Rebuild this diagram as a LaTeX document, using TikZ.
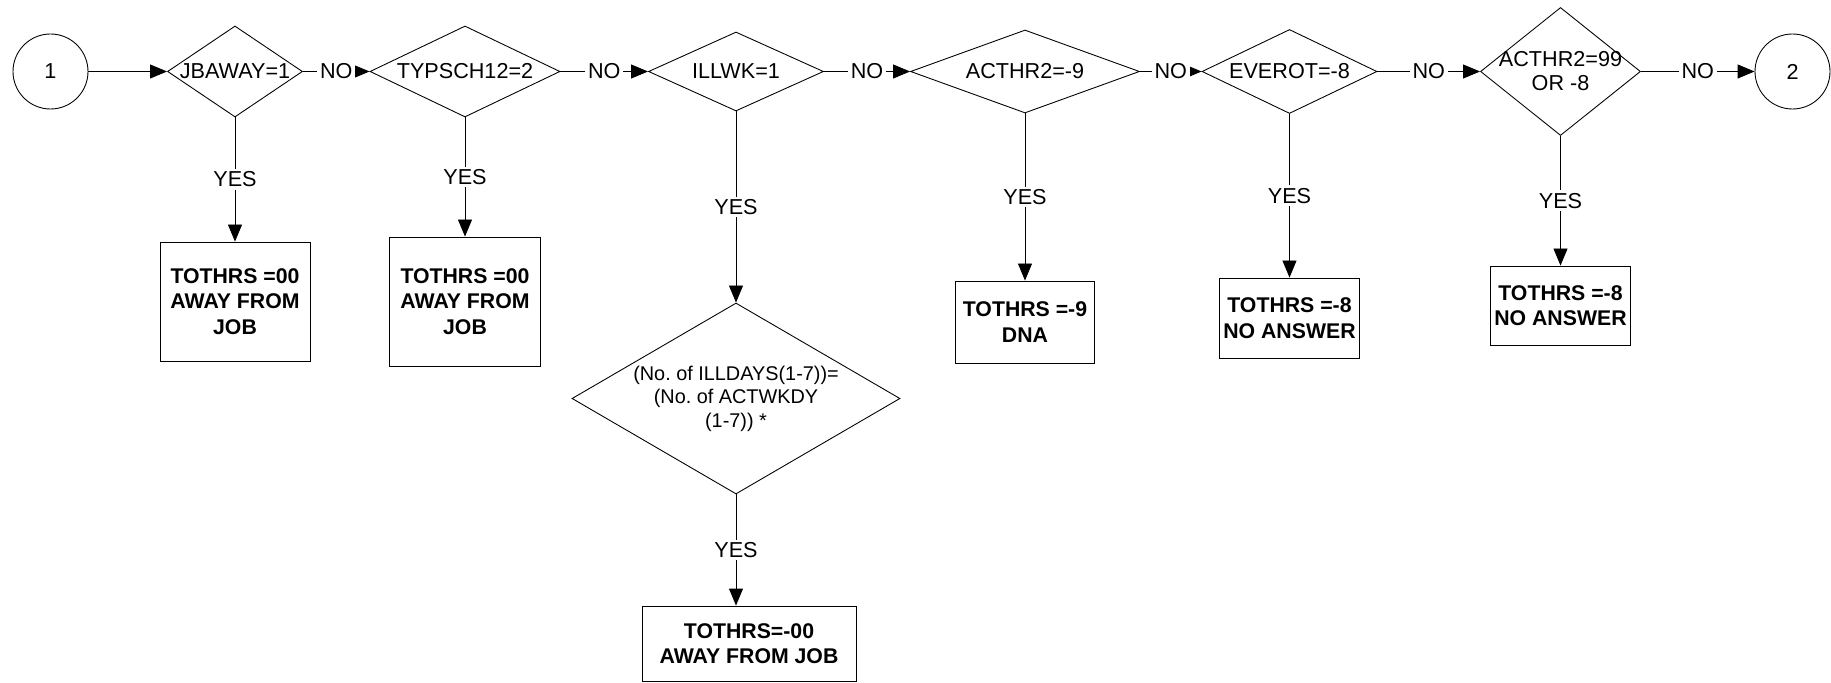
\documentclass[tikz,border=0pt]{standalone}
\usepackage{fontspec}
\setmainfont{Liberation Sans}
\usetikzlibrary{arrows.meta, positioning, shapes.geometric}
\frenchspacing

\begin{document}
\begin{tikzpicture}[
    >={Triangle[length=3.4mm, width=2.8mm]},
    line width=0.5pt,
    every node/.style={font=\fontsize{12.3}{14}\selectfont},
    decision/.style={diamond, draw, inner sep=0pt},
    result/.style={draw, rectangle, align=center, inner sep=2pt, font=\fontsize{12.1}{14.5}\selectfont\bfseries},
    term/.style={draw, circle, minimum size=1.5cm, inner sep=0pt},
    lbl/.style={fill=white, inner sep=1.5pt},
]
    \useasboundingbox (0,0) rectangle (36.62,-13.66);

    % Connectors in and out
    \node[term] (c1) at (1.01,-1.43) {1};
    \node[term] (c2) at (35.85,-1.43) {2};

    % Checks along the top row
    \node[decision, minimum width=2.70cm, minimum height=1.82cm, label={center:JBAWAY=1}] (jbaway) at (4.70,-1.43) {};
    \node[decision, minimum width=3.80cm, minimum height=1.82cm, label={center:TYPSCH12=2}] (typsch) at (9.30,-1.43) {};
    \node[decision, minimum width=3.50cm, minimum height=1.58cm, label={center:ILLWK=1}] (illwk) at (14.72,-1.43) {};
    \node[decision, minimum width=4.58cm, minimum height=1.66cm, label={center:ACTHR2=-9}] (acthra) at (20.50,-1.43) {};
    \node[decision, minimum width=3.50cm, minimum height=1.68cm, label={center:EVEROT=-8}] (everot) at (25.79,-1.43) {};
    \node[decision, minimum width=3.20cm, minimum height=2.56cm, label={[align=center, font=\fontsize{12.3}{13.6}\selectfont]center:{ACTHR2=99\\OR -8}}] (acthrb) at (31.21,-1.43) {};

    % Ill days check
    \node[decision, minimum width=6.56cm, minimum height=3.82cm, label={[align=center, font=\fontsize{11.3}{13.3}\selectfont]center:{(No. of ILLDAYS(1-7))=\\(No. of ACTWKDY\\(1-7)) *}}] (illdays) at (14.72,-7.97) {};

    % Outcomes
    \node[result, minimum width=3.00cm, minimum height=2.38cm] (box1) at (4.70,-6.03) {TOTHRS =00\\AWAY FROM\\JOB};
    \node[result, minimum width=3.02cm, minimum height=2.58cm] (box2) at (9.30,-6.03) {TOTHRS =00\\AWAY FROM\\JOB};
    \node[result, minimum width=4.28cm, minimum height=1.50cm] (box3) at (14.98,-12.87) {TOTHRS=-00\\AWAY FROM JOB};
    \node[result, minimum width=2.79cm, minimum height=1.64cm] (box4) at (20.50,-6.44) {TOTHRS =-9\\DNA};
    \node[result, minimum width=2.78cm, minimum height=1.60cm] (box5) at (25.79,-6.36) {TOTHRS =-8\\NO ANSWER};
    \node[result, minimum width=2.80cm, minimum height=1.58cm] (box6) at (31.21,-6.11) {TOTHRS =-8\\NO ANSWER};

    % NO branches
    \draw[->] (c1) -- (jbaway);
    \draw[->] (jbaway) -- node[lbl] {NO} (typsch);
    \draw[->] (typsch) -- node[lbl] {NO} (illwk);
    \draw[->] (illwk) -- node[lbl] {NO} (acthra);
    \draw[->] (acthra) -- node[lbl] {NO} (everot);
    \draw[->] (everot) -- node[lbl] {NO} (acthrb);
    \draw[->] (acthrb) -- node[lbl] {NO} (c2);

    % YES branches
    \draw[->] (jbaway) -- node[lbl] {YES} (box1);
    \draw[->] (typsch) -- node[lbl] {YES} (box2);
    \draw[->] (illwk) -- node[lbl] {YES} (illdays);
    \draw[->] (illdays.south) -- node[lbl] {YES} (illdays.south |- box3.north);
    \draw[->] (acthra) -- node[lbl] {YES} (box4);
    \draw[->] (everot) -- node[lbl] {YES} (box5);
    \draw[->] (acthrb) -- node[lbl] {YES} (box6);
\end{tikzpicture}
\end{document}
